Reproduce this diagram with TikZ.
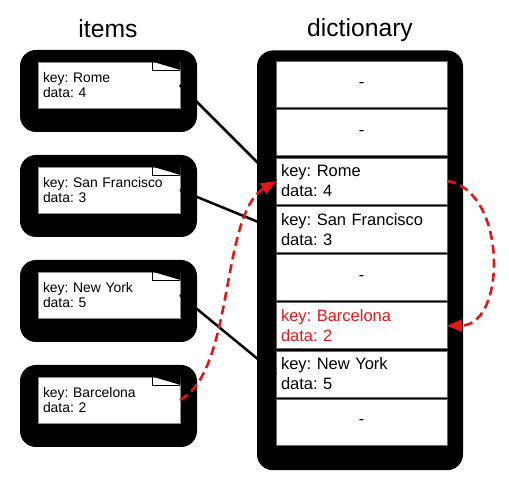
\documentclass[tikz,border=0pt]{standalone}
\usepackage{fontspec}
\setmainfont{Liberation Sans}
\frenchspacing
\usetikzlibrary{arrows.meta,positioning,backgrounds}
\definecolor{hashred}{RGB}{226,24,24}
\tikzset{
  note/.style={rectangle, fill=white, draw=black!45, line width=0.6pt, outer sep=0pt,
    minimum width=142pt, minimum height=46pt, text width=132pt, inner xsep=5pt, inner ysep=2pt,
    align=left, font=\fontsize{13.9}{15.7}\selectfont},
  slot/.style={rectangle, fill=white, draw=black!60, line width=0.8pt, outer sep=0pt,
    minimum width=171pt, minimum height=46pt, text width=161pt, inner xsep=5pt, inner ysep=2pt,
    align=left, font=\fontsize{16.5}{20}\selectfont},
  emptyslot/.style={slot, align=center},
  heading/.style={font=\fontsize{24.7}{28}\selectfont, anchor=base},
  blob/.style={fill=black, rounded corners=16pt},
  link/.style={draw=black, line width=2.5pt},
  jump/.style={->, draw=hashred, line width=2.6pt, dash pattern=on 9pt off 5pt},
}
\begin{document}
\begin{tikzpicture}[x=1pt, y=1pt, >={Triangle[length=15pt,width=12pt]}]
\useasboundingbox (0,0) rectangle (509,490);

% items
\node[note] (rome) at (109,405)        {key: Rome\\data: 4};
\node[note] (sf)   [below=59pt of rome] {key: San Francisco\\data: 3};
\node[note] (ny)   [below=59pt of sf]   {key: New York\\data: 5};
\node[note] (bcn)  [below=59pt of ny]   {key: Barcelona\\data: 2};

% dictionary slots
\node[emptyslot] (s1) at (361.5,405.5)       {-};
\node[emptyslot] (s2) [below=2.25pt of s1] {-};
\node[slot]      (s3) [below=2.25pt of s2] {key: Rome\\data: 4};
\node[slot]      (s4) [below=2.25pt of s3] {key: San Francisco\\data: 3};
\node[emptyslot] (s5) [below=2.25pt of s4] {-};
\node[slot, text=hashred] (s6) [below=2.25pt of s5] {key: Barcelona\\data: 2};
\node[slot]      (s7) [below=2.25pt of s6] {key: New York\\data: 5};
\node[emptyslot] (s8) [below=2.25pt of s7] {-};

\node[heading] (itemshead) at (108,452) {items};
\node[heading] (dicthead)  at (360,453) {dictionary};

\begin{scope}[on background layer]
  \foreach \n in {rome,sf,ny,bcn}
    \fill[blob] ([shift={(-18pt,12pt)}]\n.north west) rectangle ([shift={(17pt,-24pt)}]\n.south east);
  \fill[blob] ([shift={(-19pt,11pt)}]s1.north west) rectangle ([shift={(16pt,-25pt)}]s8.south east);
\end{scope}

% folded corners
\foreach \n in {rome,sf,ny,bcn}{
  \fill ([shift={(-28pt,0.5pt)}]\n.north east) -- ([shift={(0.5pt,0.5pt)}]\n.north east)
        -- ([shift={(0.5pt,-8pt)}]\n.north east) -- cycle;
  \draw[line width=0.9pt] ([xshift=-28pt]\n.north east) -- ++(0,-8pt) -- ([yshift=-8pt]\n.north east);
}

\path
  (rome.east) edge[link] (s3.west)
  (sf.east)   edge[link] (s4.west)
  (ny.east)   edge[link] (s7.west);

\draw[jump] (bcn.east) .. controls (235,120) and (220,275) .. (s3.west);
\draw[jump] (s3.east) .. controls (507,300) and (507,165) .. (s6.east);
\end{tikzpicture}
\end{document}
